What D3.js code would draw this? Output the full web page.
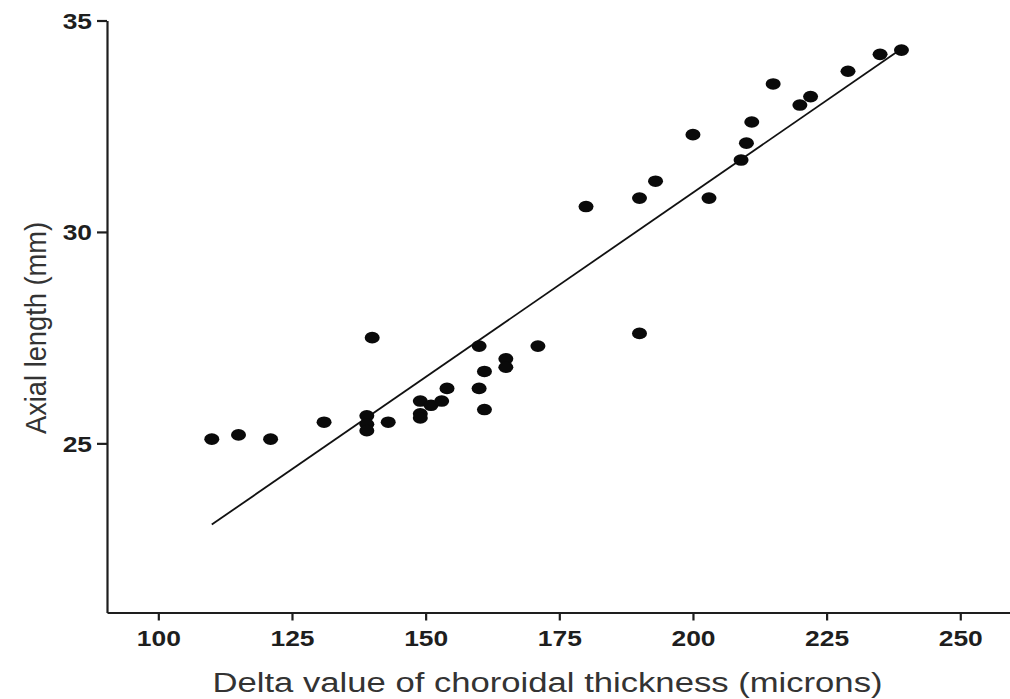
<!DOCTYPE html>
<html>
<head>
<meta charset="utf-8">
<script src="https://cdn.jsdelivr.net/npm/d3@7/dist/d3.min.js"></script>
<style>
  html, body { margin: 0; padding: 0; background: #fff; }
  svg { display: block; }
</style>
</head>
<body>
<svg id="chart" width="1010" height="699"></svg>
<script>
// ---- data ----
const thickness = [110, 115, 121, 131, 139, 139, 139, 140, 143, 149, 149, 149, 151, 153, 154,
  160, 160, 161, 161, 165, 165, 171, 180, 190, 193, 203, 190, 209, 200, 210, 211, 215, 220, 222, 229, 235, 239];
const axialLength = [25.1, 25.2, 25.1, 25.5, 25.65, 25.45, 25.3, 27.5, 25.5, 26.0, 25.7, 25.6, 25.9, 26.0, 26.3,
  27.3, 26.3, 26.7, 25.8, 27.0, 26.8, 27.3, 30.6, 30.8, 31.2, 30.8, 27.6, 31.7, 32.3, 32.1, 32.6, 33.5, 33.0, 33.2, 33.8, 34.2, 34.3];
const fitX = [110, 239];
const fitY = [23.08, 34.33];
const xTicks = [100, 125, 150, 175, 200, 225, 250];
const yTicks = [25, 30, 35];
const xTitle = "Delta value of choroidal thickness (microns)";
const yTitle = "Axial length (mm)";

const svg = d3.select("#chart");
const x = d3.scaleLinear().domain([90.4, 259.3]).range([107, 1010]);
const y = d3.scaleLinear().domain([21, 35]).range([612.5, 20.5]);

const ink = "#1e1e1e";

// x axis
const gx = svg.append("g").attr("transform", "translate(0,612.5)")
  .call(d3.axisBottom(x).tickValues(xTicks).tickFormat(d3.format("d")).tickSize(8).tickSizeOuter(0).tickPadding(0));
gx.select(".domain").attr("stroke", ink).attr("stroke-width", 2.2);
gx.selectAll(".tick line").attr("stroke", ink).attr("stroke-width", 2.2);
gx.selectAll(".tick text")
  .attr("fill", ink).attr("font-family", "Liberation Sans, Arial, sans-serif")
  .attr("font-size", 22).attr("font-weight", "bold")
  .attr("y", 0).attr("dy", 0)
  .attr("transform", "translate(0,33) scale(1.2,1)");

// y axis
const gy = svg.append("g").attr("transform", "translate(107,0)")
  .call(d3.axisLeft(y).tickValues(yTicks).tickFormat(d3.format("d")).tickSize(10).tickSizeOuter(0).tickPadding(0));
gy.select(".domain").attr("stroke", ink).attr("stroke-width", 2.2);
gy.selectAll(".tick line").attr("stroke", ink).attr("stroke-width", 2.2);
gy.selectAll(".tick text")
  .attr("fill", ink).attr("font-family", "Liberation Sans, Arial, sans-serif")
  .attr("font-size", 22).attr("font-weight", "bold")
  .attr("x", 0).attr("dy", "0.36em")
  .attr("transform", "translate(-15,0) scale(1.2,1)");

// regression line
svg.append("path")
  .datum(fitX.map((v, i) => [v, fitY[i]]))
  .attr("d", d3.line().x(d => x(d[0])).y(d => y(d[1])))
  .attr("fill", "none").attr("stroke", "#111").attr("stroke-width", 1.8);

// points
svg.append("g").selectAll("ellipse")
  .data(thickness.map((v, i) => [v, axialLength[i]]))
  .join("ellipse")
  .attr("cx", d => x(d[0])).attr("cy", d => y(d[1]))
  .attr("rx", 7.5).attr("ry", 5.8)
  .attr("fill", "#0a0a0a");

// axis titles
svg.append("text")
  .attr("x", 547.5).attr("y", 692)
  .attr("text-anchor", "middle")
  .attr("font-family", "Liberation Sans, Arial, sans-serif")
  .attr("font-size", 27).attr("fill", "#333")
  .attr("textLength", 670).attr("lengthAdjust", "spacingAndGlyphs")
  .text(xTitle);

svg.append("text")
  .attr("transform", "translate(46,328) scale(1.15,1) rotate(-90)")
  .attr("text-anchor", "middle")
  .attr("font-family", "Liberation Sans, Arial, sans-serif")
  .attr("font-size", 25).attr("fill", "#333")
  .attr("textLength", 212).attr("lengthAdjust", "spacingAndGlyphs")
  .text(yTitle);
</script>
</body>
</html>
